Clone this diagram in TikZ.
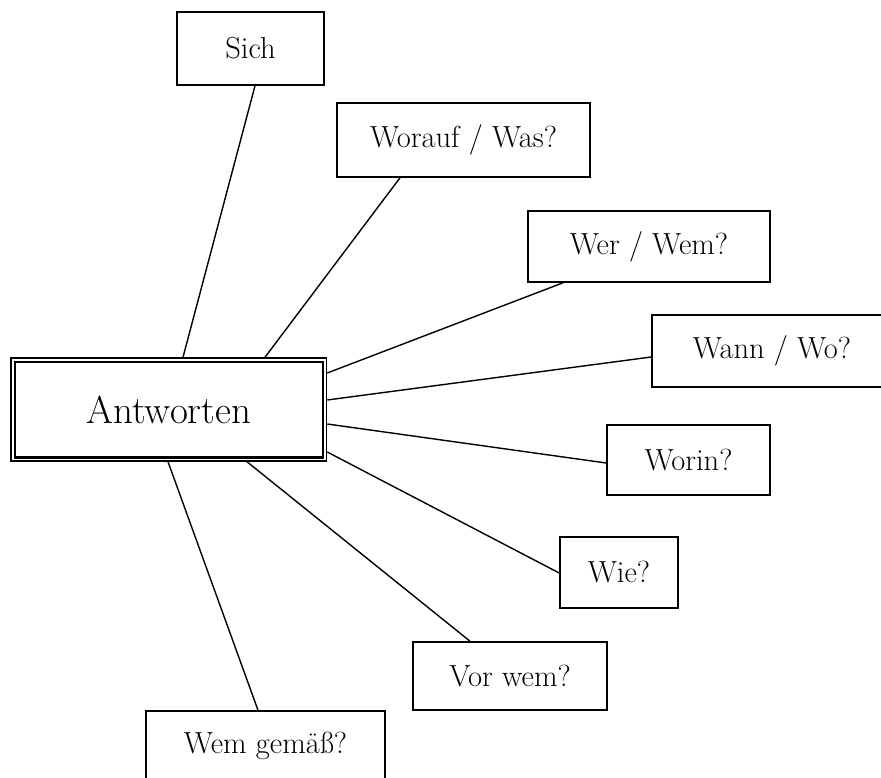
\documentclass[tikz,border=0pt]{standalone}
\usetikzlibrary{calc}
\tikzset{
  box/.style={draw, line width=1.6pt, rectangle, inner sep=0pt, font=\fontsize{30.5}{36}\selectfont},
  link/.style={line width=1.4pt},
}
\begin{document}
\begin{tikzpicture}[x=1pt, y=-1pt]
\useasboundingbox (0,0) rectangle (881,778);
\clip (0,0) rectangle (881,778);
\fill[white] (0,0) rectangle (881,778);
% central node
\node[draw, line width=1.5pt, rectangle, inner sep=0pt, minimum width=315.5pt, minimum height=103pt,
      font=\fontsize{39}{46}\selectfont] (ant) at (168.75,409.5) {Antworten};
\draw[line width=2.5pt] ([shift={(4.5,4.5)}]ant.north west) rectangle ([shift={(-4.5,-4.5)}]ant.south east);
% outer nodes
\node[box, minimum width=147pt, minimum height=73pt] (sich) at (250.5,48.5) {Sich};
\node[box, minimum width=253pt, minimum height=74pt] (worauf) at (463.5,140) {Worauf / Was?};
\node[box, minimum width=242pt, minimum height=71pt] (werwem) at (649,246.5) {Wer / Wem?};
\node[box, minimum width=240pt, minimum height=72pt] (wann) at (772,351) {Wann / Wo?};
\node[box, minimum width=163pt, minimum height=70pt] (worin) at (688.5,460) {Worin?};
\node[box, minimum width=118pt, minimum height=71pt] (wie) at (619,572.5) {Wie?};
\node[box, minimum width=194pt, minimum height=68pt] (vor) at (510,676) {Vor wem?};
\node[box, minimum width=239pt, minimum height=70pt] (gem) at (265.5,746) {Wem gemäß?};
% connectors
\draw[link] ([shift={(14.25,0)}]ant.north) -- ([shift={(4.5,0)}]sich.south);
\draw[link] ([shift={(96.25,0)}]ant.north) -- ([shift={(-63.5,0)}]worauf.south);
\draw[link] ([shift={(0,-36.5)}]ant.east) -- ([shift={(-86,0)}]werwem.south);
\draw[link] ([shift={(0,-9.5)}]ant.east) -- ([shift={(0,6)}]wann.west);
\draw[link] ([shift={(0,14.5)}]ant.east) -- ([shift={(0,3)}]worin.west);
\draw[link] ([shift={(0,42.5)}]ant.east) -- ([shift={(0,0.5)}]wie.west);
\draw[link] ([shift={(78.25,0)}]ant.south) -- ([shift={(-40,0)}]vor.north);
\draw[link] ([shift={(-0.75,0)}]ant.south) -- ([shift={(-7.5,0)}]gem.north);
\end{tikzpicture}
\end{document}
